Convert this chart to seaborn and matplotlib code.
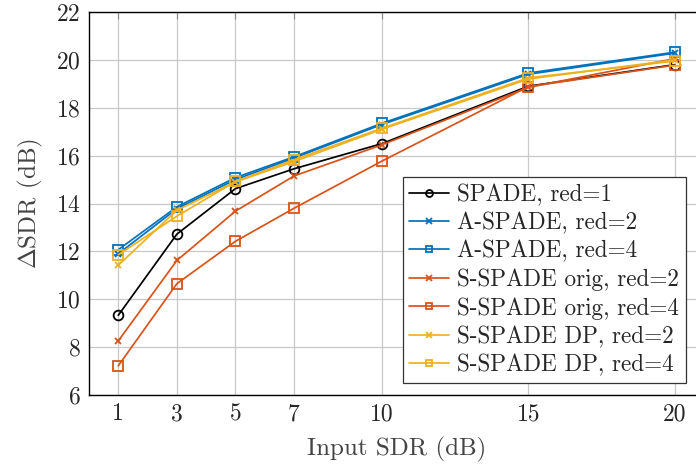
import matplotlib
matplotlib.use("Agg")
import matplotlib.pyplot as plt
import seaborn as sns
import pandas as pd

x_vals = [1, 3, 5, 7, 10, 15, 20]
spade_r1 = [9.33, 12.72, 14.62, 15.45, 16.50, 18.90, 19.80]
aspade_r2 = [11.90, 13.78, 15.00, 15.90, 17.30, 19.40, 20.28]
aspade_r4 = [12.07, 13.86, 15.08, 15.95, 17.35, 19.45, 20.32]
sspade_orig_r2 = [8.26, 11.62, 13.68, 15.15, 16.45, 18.85, 20.05]
sspade_orig_r4 = [7.22, 10.65, 12.42, 13.80, 15.77, 18.88, 19.78]
sspade_dp_r2 = [11.42, 13.72, 14.90, 15.75, 17.10, 19.20, 20.00]
sspade_dp_r4 = [11.86, 13.47, 14.92, 15.83, 17.14, 19.25, 19.95]

labels = ["SPADE, red=1", "A-SPADE, red=2", "A-SPADE, red=4",
          "S-SPADE orig, red=2", "S-SPADE orig, red=4",
          "S-SPADE DP, red=2", "S-SPADE DP, red=4"]
series = [spade_r1, aspade_r2, aspade_r4, sspade_orig_r2, sspade_orig_r4,
          sspade_dp_r2, sspade_dp_r4]
colors = ["black", "#0072BD", "#0072BD", "#D95319", "#D95319", "#EDB120", "#EDB120"]
markers = ["o", "x", "s", "x", "s", "x", "s"]
msizes = [7, 5, 7, 5, 7, 5, 7]

sns.set_style("white")
plt.rcParams["font.family"] = ["cmr10"]
plt.rcParams["mathtext.fontset"] = "cm"
plt.rcParams["axes.formatter.use_mathtext"] = True

fig = plt.figure(figsize=(6.96, 4.66), dpi=100)
ax = fig.add_axes([89 / 696, 1 - 395 / 466, (704 - 89) / 696, (395 - 12) / 466])

for lab, ys, c, m, ms in zip(labels, series, colors, markers, msizes):
    df = pd.DataFrame({"x": x_vals, "y": ys})
    sns.lineplot(data=df, x="x", y="y", ax=ax, color=c, marker=m,
                 markersize=ms, markerfacecolor="none", markeredgecolor=c,
                 markeredgewidth=1.3, linewidth=1.25, label=lab)

ax.set_xlim(0, 21)
ax.set_ylim(6, 22)
ax.set_xticks(x_vals)
ax.set_xticklabels([str(v) for v in x_vals])
ax.set_yticks(list(range(6, 23, 2)))
ax.grid(True, color="#c8c8c8", linewidth=0.9)
ax.set_axisbelow(True)
ax.tick_params(direction="in", length=5, width=0.8, color="#888888",
               labelsize=17, top=True, right=True, pad=6)
for sp in ax.spines.values():
    sp.set_color("black")
    sp.set_linewidth(1.0)

ax.set_xlabel("Input SDR (dB)", fontsize=18, color="#444444", labelpad=8)
ax.set_ylabel(r"$\Delta$SDR (dB)", fontsize=18, color="#444444", labelpad=8)

leg = ax.legend(loc="lower right", bbox_to_anchor=(686 / 696, 1 - 383 / 466),
                bbox_transform=fig.transFigure,
                fontsize=16.7, frameon=True, fancybox=False, framealpha=1,
                edgecolor="#333333", handlelength=1.7, handletextpad=0.35,
                labelspacing=0.26, borderpad=0.3, borderaxespad=0.0)
leg.get_frame().set_linewidth(0.9)
for h in leg.legend_handles:
    h.set_markersize(5)

fig.savefig("out.png", dpi=100)
